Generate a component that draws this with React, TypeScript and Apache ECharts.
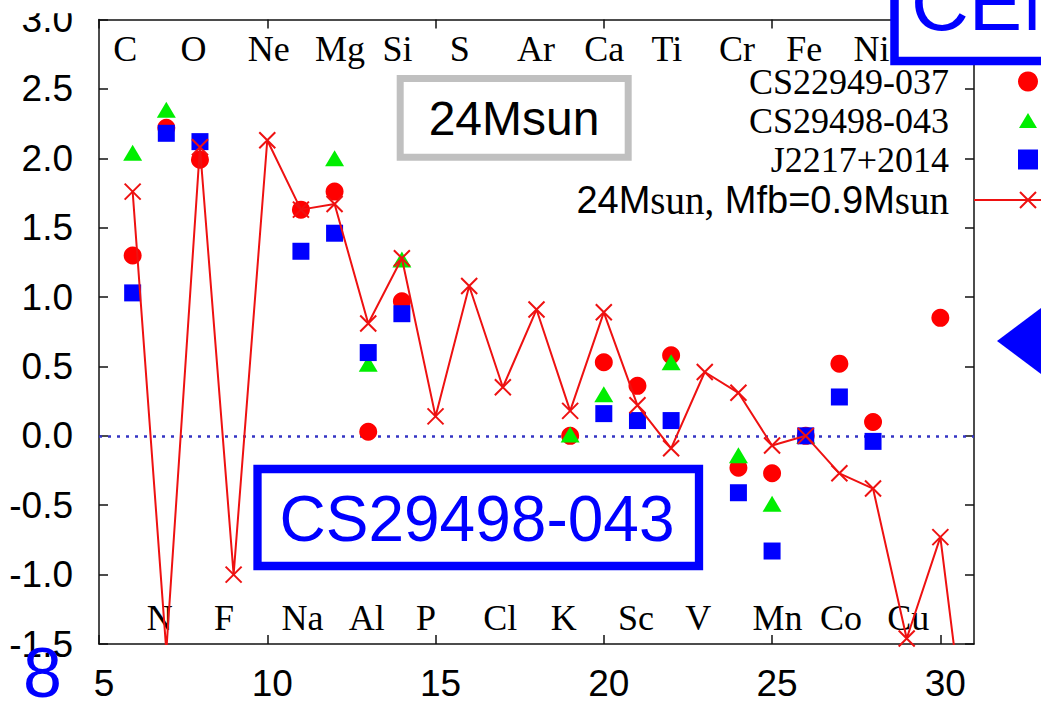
import React, { useEffect, useRef } from "react";
import * as echarts from "echarts";

// ---- data (atomic number Z vs [X/Fe]) ----
const elementZ = [6, 7, 8, 9, 10, 11, 12, 13, 14, 15, 16, 17, 18, 19, 20, 21, 22, 23, 24, 25, 26, 27, 28, 29];
const elementNames = ["C", "N", "O", "F", "Ne", "Na", "Mg", "Al", "Si", "P", "S", "Cl", "Ar", "K", "Ca", "Sc", "Ti", "V", "Cr", "Mn", "Fe", "Co", "Ni", "Cu"];

const cs22949Z = [6, 7, 8, 11, 12, 13, 14, 19, 20, 21, 22, 24, 25, 26, 27, 28, 30];
const cs22949 = [1.30, 2.22, 1.99, 1.63, 1.76, 0.03, 0.97, 0.00, 0.53, 0.36, 0.58, -0.23, -0.27, 0.00, 0.52, 0.10, 0.85];

const cs29498Z = [6, 7, 12, 13, 14, 19, 20, 22, 24, 25, 26];
const cs29498 = [2.04, 2.35, 2.00, 0.52, 1.27, 0.01, 0.30, 0.53, -0.14, -0.49, 0.00];

const j2217Z = [6, 7, 8, 11, 12, 13, 14, 20, 21, 22, 24, 25, 26, 27, 28];
const j2217 = [1.03, 2.18, 2.12, 1.33, 1.46, 0.60, 0.88, 0.16, 0.11, 0.11, -0.41, -0.83, 0.00, 0.28, -0.04];

const modelZ = [6, 7, 8, 9, 10, 11, 12, 13, 14, 15, 16, 17, 18, 19, 20, 21, 22, 23, 24, 25, 26, 27, 28, 29, 30, 31];
const model = [1.76, -1.55, 2.08, -1.00, 2.13, 1.63, 1.67, 0.81, 1.28, 0.14, 1.08, 0.35, 0.91, 0.18, 0.89, 0.22, -0.09, 0.46, 0.31, -0.07, 0.00, -0.27, -0.38, -1.46, -0.73, -2.67];

const xTicks = [5, 10, 15, 20, 25, 30];
const yTicks = [-1.5, -1.0, -0.5, 0.0, 0.5, 1.0, 1.5, 2.0, 2.5, 3.0];

const seriesNames = ["CS22949-037", "CS29498-043", "J2217+2014", "24Msun, Mfb=0.9Msun"];

// layout constants (label rows in data units)
const TOP_ROW = 2.79;
const BOTTOM_ROW = -1.31;

const SANS = "'Liberation Sans', Arial, Helvetica, sans-serif";
const SERIF = "'Liberation Serif', 'Times New Roman', serif";
const X_MARK = "path://M0,0L10,10M10,0L0,10";
// triangle inside a padded 24x20 box (padding keeps the legend icon small)
const TRI_MARK = "path://M0,0L0,0M24,20L24,20M3,17.5L12,2.5L21,17.5Z";
const SQ_MARK = "path://M0,0L10,0L10,10L0,10Z";

const zip = (xs: number[], ys: number[]) => xs.map((x, i) => [x, ys[i]]);

export default function App() {
  const ref = useRef<HTMLDivElement>(null);
  useEffect(() => {
    if (!ref.current) return;
    const chart = echarts.init(ref.current, undefined, { renderer: "svg" });
    const labelData = elementZ.map((z, i) => [z, z % 2 === 0 ? TOP_ROW : BOTTOM_ROW, elementNames[i]]);
    const axisLineStyle = { color: "#111", width: 1.5 };
    const option: any = {
      animation: false,
      backgroundColor: "#fff",
      grid: { left: 99, right: 67, top: 19.5, bottom: 57 },
      xAxis: [
        {
          type: "value",
          min: xTicks[0],
          max: 31,
          interval: 5,
          axisLine: { show: true, onZero: false, lineStyle: axisLineStyle },
          axisTick: { show: true, inside: true, length: 9, lineStyle: axisLineStyle },
          splitLine: { show: false },
          axisLabel: {
            show: true,
            margin: 21,
            fontSize: 37,
            fontFamily: SANS,
            color: "#000",
            padding: [0, 0, 0, 10],
            showMaxLabel: false,
            formatter: (v: number) => (xTicks.includes(v) ? String(v) : ""),
          },
        },
        {
          type: "value",
          position: "top",
          min: xTicks[0],
          max: 31,
          interval: 5,
          axisLine: { show: true, onZero: false, lineStyle: axisLineStyle },
          axisTick: { show: true, inside: true, length: 9, lineStyle: axisLineStyle },
          splitLine: { show: false },
          axisLabel: { show: false },
        },
      ],
      yAxis: [
        {
          type: "value",
          min: yTicks[0],
          max: yTicks[yTicks.length - 1],
          interval: 0.5,
          axisLine: { show: true, onZero: false, lineStyle: axisLineStyle },
          axisTick: { show: true, inside: true, length: 9, lineStyle: axisLineStyle },
          splitLine: { show: false },
          axisLabel: {
            margin: 26,
            fontSize: 37,
            fontFamily: SANS,
            color: "#000",
            formatter: (v: number) => v.toFixed(1),
          },
        },
        {
          type: "value",
          position: "right",
          min: yTicks[0],
          max: yTicks[yTicks.length - 1],
          interval: 0.5,
          axisLine: { show: true, onZero: false, lineStyle: axisLineStyle },
          axisTick: { show: true, inside: true, length: 9, lineStyle: axisLineStyle },
          splitLine: { show: false },
          axisLabel: { show: false },
        },
      ],
      legend: {
        data: seriesNames,
        orient: "vertical",
        align: "right",
        right: -47,
        top: 58.5,
        itemWidth: 108,
        itemHeight: 20,
        itemGap: 3,
        symbolKeepAspect: true,
        selectedMode: false,
        textStyle: {
          fontFamily: SERIF,
          fontSize: 36,
          lineHeight: 36,
          color: "#000",
          padding: [0, 20, 0, 0],
          rich: {
            s: { fontFamily: SANS, fontSize: 38, color: "#000", lineHeight: 36 },
            t: { fontFamily: SERIF, fontSize: 39, color: "#000", lineHeight: 36 },
          },
        },
        formatter: (name: string) =>
          name === seriesNames[3] ? "{s|24M}{t|sun,}{s| Mfb=0.9M}{t|sun}" : name,
      },
      series: [
        {
          name: seriesNames[0],
          type: "scatter",
          symbol: "circle",
          symbolSize: 18,
          itemStyle: { color: "#ff0000", opacity: 1 },
          data: zip(cs22949Z, cs22949),
          z: 3,
          markLine: {
            silent: true,
            symbol: ["none", "none"],
            label: { show: false },
            lineStyle: { color: "#3434c4", type: [3, 6], width: 2.5, opacity: 1 },
            emphasis: { disabled: true },
            data: [{ yAxis: 0 }],
            z: 1,
          },
        },
        {
          name: seriesNames[1],
          type: "scatter",
          symbol: TRI_MARK,
          symbolSize: [25.3, 21.3],
          symbolKeepAspect: false,
          itemStyle: { color: "#00ee00", opacity: 1 },
          data: zip(cs29498Z, cs29498),
          z: 4,
        },
        {
          name: seriesNames[2],
          type: "scatter",
          symbol: SQ_MARK,
          symbolSize: 17,
          itemStyle: { color: "#0000ff", opacity: 1 },
          data: zip(j2217Z, j2217),
          z: 5,
        },
        {
          name: seriesNames[3],
          type: "line",
          symbol: X_MARK,
          symbolSize: 16,
          showSymbol: true,
          clip: true,
          lineStyle: { color: "#ee1111", width: 2 },
          itemStyle: { color: "#ee1111", borderColor: "#ee1111", borderWidth: 2 },
          data: zip(modelZ, model),
          z: 6,
        },
        {
          name: "elements",
          type: "scatter",
          symbolSize: 1,
          silent: true,
          itemStyle: { color: "rgba(0,0,0,0)", opacity: 1 },
          data: labelData,
          label: {
            show: true,
            position: "inside",
            align: "left",
            verticalAlign: "middle",
            offset: [-19.5, 0],
            fontFamily: SERIF,
            fontSize: 36,
            color: "#000",
            opacity: 1,
            formatter: (p: any) => p.data[2],
          },
          z: 2,
        },
      ],
      graphic: [
        {
          type: "rect",
          shape: { x: 0, y: 0, width: 890, height: 13.3 },
          style: { fill: "#fff" },
          z: 99,
        },
        {
          type: "rect",
          shape: { x: 400.2, y: 78.5, width: 228, height: 78.7 },
          style: { fill: "#fff", stroke: "#c0c0c0", lineWidth: 7 },
          z: 100,
        },
        {
          type: "text",
          x: 514,
          y: 118,
          style: { text: "24Msun", font: `48px ${SANS}`, fill: "#000", align: "center", verticalAlign: "middle" },
          z: 101,
        },
        {
          type: "rect",
          shape: { x: 257.5, y: 469, width: 441.5, height: 97 },
          style: { fill: "#fff", stroke: "#0000ff", lineWidth: 8.3 },
          z: 100,
        },
        {
          type: "text",
          x: 477,
          y: 519,
          style: { text: "CS29498-043", font: `64px ${SANS}`, fill: "#0000ff", align: "center", verticalAlign: "middle" },
          z: 101,
        },
        {
          type: "rect",
          shape: { x: 894.5, y: -60, width: 300, height: 121 },
          style: { fill: "#fff", stroke: "#0000ff", lineWidth: 8.5 },
          z: 100,
        },
        {
          type: "text",
          x: 911,
          y: 2,
          style: { text: "CEMP", font: `80px ${SANS}`, fill: "#0000ff", align: "left", verticalAlign: "middle" },
          z: 101,
        },
        {
          type: "polygon",
          shape: { points: [[997, 341], [1063, 291.5], [1063, 390.5]] },
          style: { fill: "#0000ff" },
          z: 100,
        },
        {
          type: "text",
          x: 23,
          y: 673,
          style: { text: "8", font: `70px ${SANS}`, fill: "#0000ff", align: "left", verticalAlign: "middle" },
          z: 101,
        },
      ],
    };
    chart.setOption(option);
    return () => chart.dispose();
  }, []);
  return (
    <div
      ref={ref}
      style={{ position: "absolute", left: 0, top: 0, width: 1041, height: 702, background: "#fff" }}
    />
  );
}
